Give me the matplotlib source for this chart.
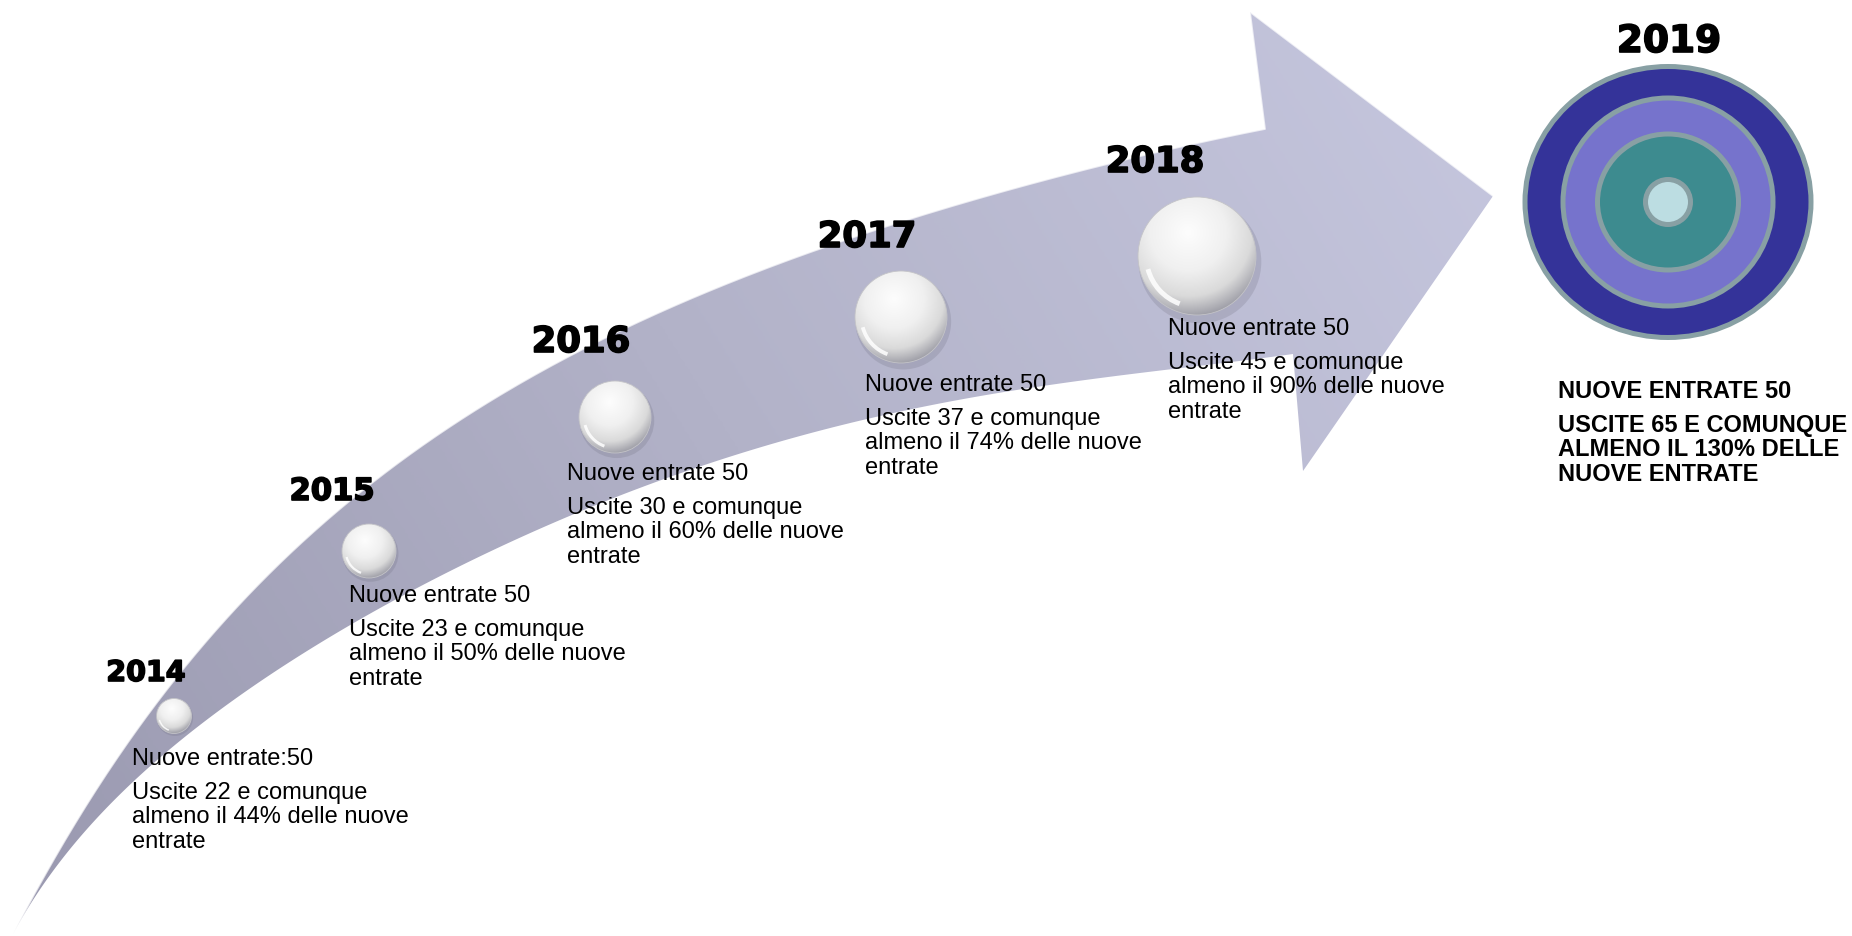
import numpy as np
import matplotlib.pyplot as plt
from matplotlib.path import Path
from matplotlib.patches import PathPatch, Circle, Ellipse, Arc
from matplotlib.colors import LinearSegmentedColormap
import matplotlib.patheffects as pe

# data
years = ['2014', '2015', '2016', '2017', '2018', '2019']
nuove_entrate = [50, 50, 50, 50, 50, 50]
uscite = [22, 23, 30, 37, 45, 65]
percentuale = [44, 50, 60, 74, 90, 130]
separatore = [':', ' ', ' ', ' ', ' ', ' ']

# layout, in pixels of the 1852x937 canvas (y grows downwards)
year_pos = [(146, 682), (332, 501), (581, 353), (867, 248), (1155, 173), (1669, 53)]
year_size = [20.5, 22, 25.5, 25.5, 25.5, 27]
text_pos = [(132, 765), (349, 602), (567, 480), (865, 391), (1168, 335), (1558, 398)]
bubble_xy = [(174, 717), (369, 552), (615, 418), (901, 318), (1197, 257)]
bubble_r = [17.5, 27, 36, 46, 59]

# points traced along the two edges of the curved arrow
upper_edge = [(13, 935), (60, 840), (110, 765), (160, 705), (210, 645), (260, 588),
              (310, 535), (360, 490), (410, 450), (470, 413), (530, 380), (600, 343),
              (680, 305), (780, 266), (880, 230), (980, 197), (1120, 162), (1265, 130)]
lower_edge = [(13, 935), (67, 857), (133, 783), (220, 710), (275, 668), (350, 628),
              (400, 600), (470, 563), (553, 523), (650, 487), (760, 447), (880, 416),
              (1000, 394), (1130, 376), (1293, 355)]
head = [(1250, 13), (1493, 197), (1303, 472), (1293, 355)]

target_c = (1668, 203)
target_rx = [143, 105, 70.5, 22.5]
target_ry = [135.5, 104, 68, 22.5]
target_col = ['#343399', '#7673cc', '#3d8b8f', '#bcdde2']

W, H = 1852, 937
body_font = 'Liberation Sans'


def smooth_edge(pts, deg=5, n=400):
    # smooth the hand-traced outline (chord-length parametrised polynomial)
    P = np.asarray(pts, float)
    seg = np.hypot(*np.diff(P, axis=0).T)
    t = np.r_[0, np.cumsum(seg)] / seg.sum()
    w = np.ones(len(P))
    w[0] = w[-1] = 30
    T = np.linspace(0, 1, n)
    x = np.polyval(np.polyfit(t, P[:, 0], deg, w=w), T)
    y = np.polyval(np.polyfit(t, P[:, 1], deg, w=w), T)
    x[0], y[0], x[-1], y[-1] = P[0, 0], P[0, 1], P[-1, 0], P[-1, 1]
    return np.c_[x, y]


fig = plt.figure(figsize=(W / 100, H / 100), dpi=100)
ax = fig.add_axes([0, 0, 1, 1])
ax.axis('off')

# curved arrow
up = smooth_edge(upper_edge)
lo = smooth_edge(lower_edge)
outline = np.vstack([up, head, lo[::-1][1:]])
arrow = PathPatch(Path(outline, closed=True), facecolor='none', edgecolor='none')
ax.add_patch(arrow)

xs = np.linspace(0, 1500, 600)
ys = np.linspace(0, H, 375)
X, Y = np.meshgrid(xs, ys)
d = np.array([1480.0, -922.0])
t = np.clip(((X - 13) * d[0] + (Y - 935) * d[1]) / (d @ d), 0, 1)
arrow_cmap = LinearSegmentedColormap.from_list('arrow', ['#9a99b0', '#b2b2c8', '#c6c7df'])
im = ax.imshow(t, extent=(0, 1500, H, 0), origin='upper', cmap=arrow_cmap,
               vmin=0, vmax=1, interpolation='bilinear', zorder=1)
im.set_clip_path(arrow)

# light bevel on the upper edge and arrow head
bevel = np.vstack([up, head[:2]])
ax.plot(bevel[:, 0], bevel[:, 1], color='white', alpha=0.7, lw=1.3, zorder=2)

# glossy bubbles
bubble_cmap = LinearSegmentedColormap.from_list(
    'bubble', [(0, '#fdfdfd'), (0.45, '#f0f0f0'), (0.75, '#dadada'), (1, '#9c9ca5')])
for (cx, cy), r in zip(bubble_xy, bubble_r):
    ax.add_patch(Circle((cx + 0.05 * r, cy + 0.1 * r), r * 1.04, facecolor='#6b6b7c',
                        edgecolor='none', alpha=0.22, zorder=3))
    u = np.linspace(-1, 1, 120)
    U, V = np.meshgrid(u, u)
    img = bubble_cmap(np.clip(np.hypot(U + 0.15, V + 0.4) / 1.45, 0, 1))
    bim = ax.imshow(img, extent=(cx - r, cx + r, cy + r, cy - r), origin='upper',
                    interpolation='bilinear', zorder=4)
    clip = Circle((cx, cy), r, transform=ax.transData)
    bim.set_clip_path(clip)
    ax.add_patch(Circle((cx, cy), r, facecolor='none', edgecolor='#c4c4c8', lw=0.6, zorder=5))
    ax.add_patch(Arc((cx, cy), 1.72 * r, 1.72 * r, theta1=110, theta2=165, color='white',
                     alpha=0.85, lw=max(0.8, 0.06 * r), zorder=6))

# 2019 target
for rx, ry, col in zip(target_rx, target_ry, target_col):
    ax.add_patch(Ellipse(target_c, 2 * rx, 2 * ry, facecolor=col, edgecolor='#88a0a4',
                         lw=3.6, zorder=3))

# labels
for i, yr in enumerate(years):
    x, y = year_pos[i]
    ax.text(x, y, yr, ha='center', va='baseline', fontsize=year_size[i],
            fontweight='bold', family='DejaVu Sans', color='black', zorder=8,
            path_effects=[pe.withStroke(linewidth=1.2, foreground='black')])

    lines = [f'Nuove entrate{separatore[i]}{nuove_entrate[i]}',
             f'Uscite {uscite[i]} e comunque']
    if i < 5:
        lines += [f'almeno il {percentuale[i]}% delle nuove', 'entrate']
        weight = 'normal'
    else:
        lines += [f'almeno il {percentuale[i]}% delle', 'nuove entrate']
        lines = [s.upper() for s in lines]
        weight = 'bold'
    x, y = text_pos[i]
    offsets = [0, 34, 58.5, 83]
    for s, off in zip(lines, offsets):
        ax.text(x, y + off, s, ha='left', va='baseline', fontsize=17, fontweight=weight,
                family=body_font, color='black', zorder=8)

ax.set_xlim(0, W)
ax.set_ylim(H, 0)
fig.savefig('out.png', dpi=100, facecolor='white')
